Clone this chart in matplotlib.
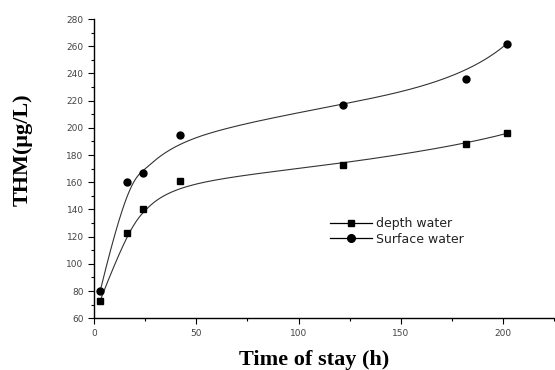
import numpy as np
import matplotlib
matplotlib.use('Agg')
import matplotlib.pyplot as plt
from matplotlib.lines import Line2D
from matplotlib.ticker import MultipleLocator

# data
hours = [3, 16, 24, 42, 122, 182, 202]
depth_water = [73, 123, 140, 161, 173, 188, 196]
surface_water = [80, 160, 167, 195, 217, 236, 262]


def bspline(xs, ys, n=300):
    # clamped cubic B-spline, points used as control points (like Origin's "B-spline" connect)
    P = np.column_stack([xs, ys]).astype(float)
    k = 3
    m = len(P)
    knots = np.concatenate([np.zeros(k), np.linspace(0, 1, m - k + 1), np.ones(k)])
    out = []
    for t in np.linspace(0, 1, n):
        if t >= 1.0:
            out.append(P[-1])
            continue
        j = np.searchsorted(knots, t, side='right') - 1
        d = [P[j - k + i].copy() for i in range(k + 1)]
        for r in range(1, k + 1):
            for i in range(k, r - 1, -1):
                a = (t - knots[j - k + i]) / (knots[i + 1 + j - r] - knots[j - k + i])
                d[i] = (1 - a) * d[i - 1] + a * d[i]
        out.append(d[k])
    out = np.array(out)
    return out[:, 0], out[:, 1]


fig = plt.figure(figsize=(5.55, 3.7), dpi=100)
ax = fig.add_axes([0.1694, 0.1397, 0.829, 0.8089])

for ys, mk in [(depth_water, 's'), (surface_water, 'o')]:
    cx, cy = bspline(hours, ys)
    ax.plot(cx, cy, color='#333333', lw=0.8)
    ax.plot(hours, ys, linestyle='none', marker=mk, ms=5, color='black')

ax.set_xlim(0, 225)
ax.set_ylim(60, 280)
ax.xaxis.set_major_locator(MultipleLocator(50))
ax.xaxis.set_minor_locator(MultipleLocator(25))
ax.yaxis.set_major_locator(MultipleLocator(20))
ax.yaxis.set_minor_locator(MultipleLocator(10))
ax.set_xticks([0, 50, 100, 150, 200])

for s in ['top', 'right']:
    ax.spines[s].set_visible(False)
for s in ['left', 'bottom']:
    ax.spines[s].set_linewidth(1.0)
ax.tick_params(which='major', direction='out', length=4, width=0.8, labelsize=6.5, labelcolor='#444444')
ax.tick_params(which='minor', direction='out', length=2, width=0.8)

handles = [Line2D([], [], color='black', lw=0.9, marker='s', ms=5),
           Line2D([], [], color='black', lw=0.9, marker='o', ms=5.5)]
leg = ax.legend(handles, ['depth water', 'Surface water'], loc='upper left',
                bbox_to_anchor=(0.512, 0.338), frameon=False, fontsize=9,
                borderpad=0, borderaxespad=0,
                handlelength=3.4, labelspacing=0.2, handletextpad=0.35)
for t in leg.get_texts():
    t.set_color('#222222')

fig.text(0.04, 0.595, 'THM(μg/L)', rotation=90, ha='center', va='center',
         fontsize=16, fontweight='bold', family='Liberation Serif')
fig.text(0.566, 0.0135, 'Time of stay (h)', ha='center', va='baseline',
         fontsize=16, fontweight='bold', family='Liberation Serif')

fig.savefig('out.png', dpi=100)
